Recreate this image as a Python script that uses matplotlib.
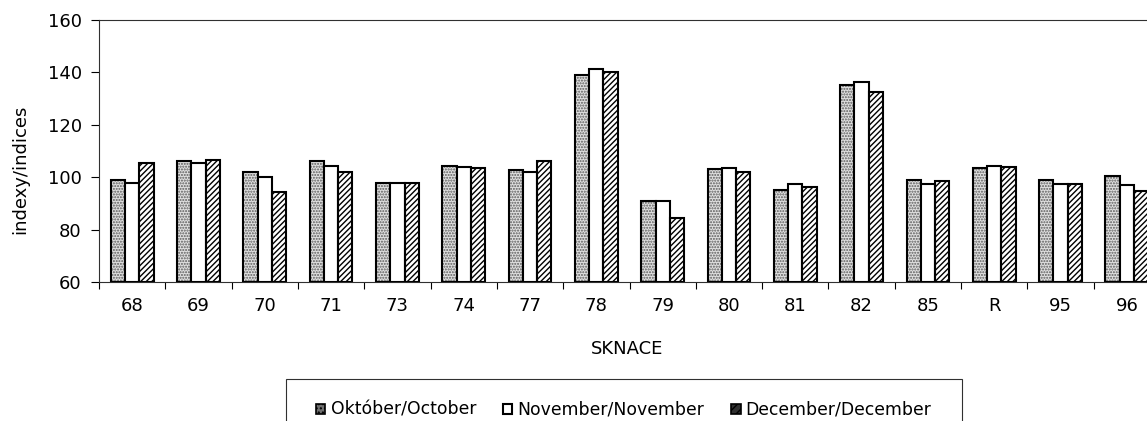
import numpy as np
import matplotlib
matplotlib.use("Agg")
import matplotlib.pyplot as plt
from matplotlib.patches import Patch, Rectangle

# values
categories = ["68", "69", "70", "71", "73", "74", "77", "78",
              "79", "80", "81", "82", "85", "R", "95", "96"]
october = [99.1, 106.2, 102.1, 106.2, 97.6, 104.4, 102.6, 139.1,
           91.0, 103.1, 95.1, 135.3, 99.1, 103.5, 99.1, 100.5]
november = [97.7, 105.4, 100.0, 104.4, 97.6, 103.8, 101.9, 141.4,
            91.0, 103.5, 97.4, 136.5, 97.4, 104.4, 97.4, 97.1]
december = [105.4, 106.5, 94.2, 102.1, 97.6, 103.5, 106.2, 140.0,
            84.4, 102.1, 96.2, 132.7, 98.6, 103.8, 97.4, 94.6]
series_names = ["Október/October", "November/November", "December/December"]
yticks = [60, 80, 100, 120, 140, 160]

plt.rcParams['font.family'] = ['DejaVu Sans']
plt.rcParams['hatch.linewidth'] = 1.0

W, H = 1147, 421
fig = plt.figure(figsize=(W / 100, H / 100), dpi=100)
# plot area runs past the right edge, like the cropped original
ax = fig.add_axes([99 / W, (H - 282) / H, 1061 / W, 262 / H])

x = np.arange(len(categories))
bw = 0.215
base = 60

# Oktober: stippled grey
ax.bar(x - bw, np.array(october) - base, bw, bottom=base, facecolor='#e0e0e0',
       edgecolor='#5a5a5a', hatch='......', linewidth=0, zorder=2)
ax.bar(x - bw, np.array(october) - base, bw, bottom=base, fill=False,
       edgecolor='black', linewidth=1.5, zorder=3)
# November: plain white
ax.bar(x, np.array(november) - base, bw, bottom=base, facecolor='white',
       edgecolor='black', linewidth=1.5, zorder=3)
# December: dense diagonal hatch
ax.bar(x + bw, np.array(december) - base, bw, bottom=base, facecolor='white',
       edgecolor='black', hatch='//////', linewidth=0, zorder=2)
ax.bar(x + bw, np.array(december) - base, bw, bottom=base, fill=False,
       edgecolor='black', linewidth=1.5, zorder=3)

ax.set_xlim(-0.5, len(categories) - 0.5)
ax.set_ylim(60, 160)
ax.set_yticks(yticks)
ax.tick_params(axis='y', direction='out', length=5.5, width=0.8,
               labelsize=13, pad=7)
ax.set_xticks(x)
ax.set_xticklabels(categories)
ax.set_xticks(np.arange(-0.5, len(categories), 1), minor=True)
ax.tick_params(axis='x', which='major', length=0, labelsize=13, pad=11)
ax.tick_params(axis='x', which='minor', direction='out', length=5, width=0.8)

for s in ax.spines.values():
    s.set_linewidth(0.8)
    s.set_color('#303030')

ax.set_ylabel('indexy/indices', fontsize=13)
ax.yaxis.set_label_coords(-0.066, 0.431)
ax.set_xlabel('SKNACE', fontsize=13)
ax.xaxis.set_label_coords(0.4976, -0.221)

handles = [
    Patch(facecolor='#707070', edgecolor='black', hatch='....', linewidth=1.2),
    Patch(facecolor='white', edgecolor='black', linewidth=1.5),
    Patch(facecolor='#303030', edgecolor='black', hatch='////', linewidth=1.2),
]
fig.legend(handles, series_names, loc='center left',
           bbox_to_anchor=(316 / W, (H - 410) / H), ncol=3, frameon=False,
           fontsize=12.4, borderpad=0, borderaxespad=0, handlelength=0.55,
           handleheight=0.55, handletextpad=0.3, columnspacing=1.55)
fig.patches.append(Rectangle((286 / W, -0.05), 676 / W, (H - 379) / H + 0.05,
                             transform=fig.transFigure, fill=False,
                             edgecolor='#303030', linewidth=0.8))

fig.savefig('out.png', dpi=100)
